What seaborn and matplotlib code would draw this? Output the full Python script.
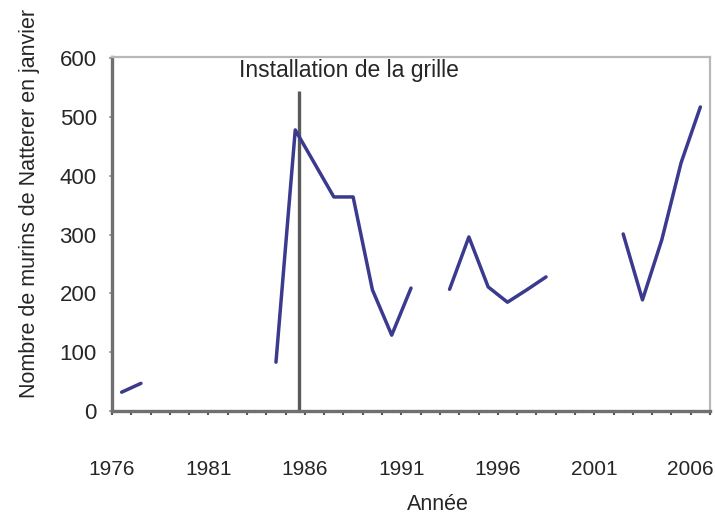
import numpy as np
import pandas as pd
import matplotlib
matplotlib.use("Agg")
import matplotlib.pyplot as plt
import seaborn as sns

sns.set_style("ticks")
plt.rcParams['font.family'] = ['Liberation Sans', 'DejaVu Sans']

# January counts of Natterer's bats, one value per year (None = no count)
years = list(range(1976, 2007))
counts = [32, 47, None, None, None, None, None, None, 83, 478,
          421, 364, 364, 206, 129, 209, None, 207, 296, 211,
          185, 206, 228, None, None, None, 301, 189, 291, 422,
          517]
tick_years = [1976, 1981, 1986, 1991, 1996, 2001, 2006]
y_ticks = [0, 100, 200, 300, 400, 500, 600]
grille_x = 1985.2
grille_label = "Installation de la grille"

df = pd.DataFrame({"year": years, "count": counts})
# split into runs so missing years leave gaps in the line
df["segment"] = df["count"].isna().cumsum()
df = df.dropna()

fig = plt.figure(figsize=(7.15, 5.16), dpi=100)
ax = fig.add_axes([112/715, 1-411/516, (710-112)/715, (411-57)/516])

sns.lineplot(data=df, x="year", y="count", units="segment", estimator=None,
             color="#3b3a8e", lw=2.5, ax=ax, zorder=3)

ax.vlines(grille_x, 0, 545, color="#5a5a5a", lw=2.4, zorder=2)
ax.text(1987.8, 579, grille_label, ha="center", va="center", fontsize=16.5)

ax.set_xlim(1975.5, 2006.5)
ax.set_ylim(0, 602)
# ticks sit on the boundaries between years, label every fifth
bounds = np.arange(1975.5, 2007)
labels = [str(int(b + 0.5)) if int(b + 0.5) in tick_years else "" for b in bounds]
ax.set_xticks(bounds, labels=labels)
ax.set_yticks(y_ticks)
ax.tick_params(axis="x", length=3, width=1.5, color="#555555", pad=32, labelsize=15)
ax.tick_params(axis="y", length=2, width=1.2, color="#999999", pad=9, labelsize=16)

for s in ["left", "bottom"]:
    ax.spines[s].set_color("#707070")
    ax.spines[s].set_linewidth(2.4)
for s in ["top", "right"]:
    ax.spines[s].set_color("#b8b8b8")
    ax.spines[s].set_linewidth(1.6)

ax.set_xlabel("")
ax.set_ylabel("")
fig.text(438/715, 1-505/516, "Année", ha="center", va="center", fontsize=15.5)
fig.text(30/715, 1-203/516, "Nombre de murins de Natterer en janvier",
         ha="center", va="center", rotation=90, fontsize=15.5)

fig.savefig("out.png", dpi=100)
